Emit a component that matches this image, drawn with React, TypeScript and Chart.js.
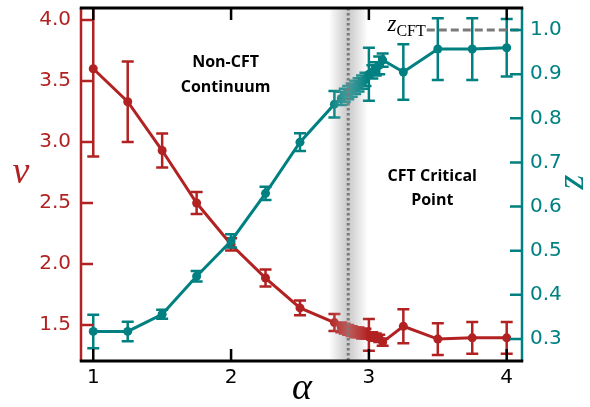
import React, { useEffect, useRef } from "react";
import { Chart, registerables } from "chart.js";
Chart.register(...registerables);

const RED = "#b22222";
const TEAL = "#008080";

const alpha = [1, 1.25, 1.5, 1.75, 2, 2.25, 2.5, 2.75, 2.8, 2.825, 2.85, 2.875, 2.9, 2.925, 2.95, 2.975, 3, 3.025, 3.05, 3.075, 3.1, 3.25, 3.5, 3.75, 4];
const nu = [3.6, 3.33, 2.93, 2.5, 2.16, 1.885, 1.64, 1.52, 1.48, 1.47, 1.46, 1.45, 1.44, 1.44, 1.43, 1.43, 1.42, 1.41, 1.4, 1.39, 1.36, 1.49, 1.385, 1.395, 1.395];
const nuErr = [0.72, 0.33, 0.14, 0.09, 0.05, 0.07, 0.06, 0.07, 0.04, 0.04, 0.04, 0.04, 0.04, 0.04, 0.04, 0.04, 0.13, 0.03, 0.03, 0.03, 0.03, 0.14, 0.13, 0.13, 0.13];
const z = [0.317, 0.317, 0.356, 0.442, 0.522, 0.63, 0.746, 0.832, 0.845, 0.852, 0.858, 0.864, 0.87, 0.876, 0.882, 0.888, 0.9, 0.905, 0.912, 0.92, 0.932, 0.905, 0.957, 0.957, 0.96];
const zErr = [0.038, 0.022, 0.01, 0.012, 0.015, 0.015, 0.02, 0.03, 0.015, 0.015, 0.015, 0.015, 0.015, 0.015, 0.015, 0.015, 0.06, 0.015, 0.015, 0.02, 0.015, 0.063, 0.07, 0.07, 0.065];

const xTicks = [1, 2, 3, 4];
const nuTicks = [1.5, 2.0, 2.5, 3.0, 3.5, 4.0];
const zTicks = [0.3, 0.4, 0.5, 0.6, 0.7, 0.8, 0.9, 1.0];

const zCFT = 1.0;
const zCFTStart = 3.42;
const alphaC = 2.85;
const bandHalf = 0.14;

const annotations = [
  { text: "Non-CFT", x: 1.96, y: 3.65 },
  { text: "Continuum", x: 1.96, y: 3.45 },
  { text: "CFT Critical", x: 3.46, y: 2.72 },
  { text: "Point", x: 3.46, y: 2.52 },
];

const errs = [nuErr, zErr];
const colors = [RED, TEAL];

const customPlugin = {
  id: "custom",
  beforeDatasetsDraw(chart: any) {
    const { ctx, chartArea, scales } = chart;
    const l = scales.x.getPixelForValue(alphaC - bandHalf);
    const r = scales.x.getPixelForValue(alphaC + bandHalf);
    const g = ctx.createLinearGradient(l, 0, r, 0);
    g.addColorStop(0, "rgba(150,150,150,0)");
    g.addColorStop(0.5, "rgba(150,150,150,0.5)");
    g.addColorStop(1, "rgba(150,150,150,0)");
    ctx.save();
    ctx.fillStyle = g;
    ctx.fillRect(l, chartArea.top, r - l, chartArea.bottom - chartArea.top);
    ctx.restore();
  },
  afterDatasetDraw(chart: any, args: any) {
    const { ctx, chartArea, scales } = chart;
    const i = args.index;
    const err = errs[i];
    const ds = chart.data.datasets[i];
    const ys = scales[ds.yAxisID];
    ctx.save();
    ctx.beginPath();
    ctx.rect(chartArea.left, chartArea.top, chartArea.right - chartArea.left, chartArea.bottom - chartArea.top);
    ctx.clip();
    ctx.strokeStyle = colors[i];
    ctx.lineWidth = 2.5;
    ds.data.forEach((p: any, k: number) => {
      const px = scales.x.getPixelForValue(p.x);
      const y1 = ys.getPixelForValue(p.y - err[k]);
      const y2 = ys.getPixelForValue(p.y + err[k]);
      ctx.beginPath();
      ctx.moveTo(px, y1);
      ctx.lineTo(px, y2);
      ctx.moveTo(px - 6, y1);
      ctx.lineTo(px + 6, y1);
      ctx.moveTo(px - 6, y2);
      ctx.lineTo(px + 6, y2);
      ctx.stroke();
    });
    ctx.restore();
  },
  afterDatasetsDraw(chart: any) {
    const { ctx, chartArea, scales } = chart;
    const cx = scales.x.getPixelForValue(alphaC);
    const l = scales.x.getPixelForValue(alphaC - bandHalf);
    const r = scales.x.getPixelForValue(alphaC + bandHalf);
    const g = ctx.createLinearGradient(l, 0, r, 0);
    g.addColorStop(0, "rgba(235,235,235,0)");
    g.addColorStop(0.5, "rgba(200,200,200,0.35)");
    g.addColorStop(1, "rgba(235,235,235,0)");
    ctx.save();
    ctx.fillStyle = g;
    ctx.fillRect(l, chartArea.top, r - l, chartArea.bottom - chartArea.top);
    ctx.strokeStyle = "#7a7a7a";
    ctx.lineWidth = 3;
    ctx.setLineDash([2.5, 2.5]);
    ctx.beginPath();
    ctx.moveTo(cx, chartArea.top);
    ctx.lineTo(cx, chartArea.bottom);
    ctx.stroke();
    const yc = scales.y2.getPixelForValue(zCFT);
    const xs = scales.x.getPixelForValue(zCFTStart);
    ctx.setLineDash([8, 4]);
    ctx.beginPath();
    ctx.moveTo(xs, yc);
    ctx.lineTo(chartArea.right, yc);
    ctx.stroke();
    ctx.setLineDash([]);
    ctx.fillStyle = "#000";
    ctx.textAlign = "right";
    ctx.textBaseline = "alphabetic";
    ctx.font = "16px 'Liberation Serif'";
    const cftW = ctx.measureText("CFT").width;
    ctx.fillText("CFT", xs - 1, yc + 6);
    ctx.font = "italic 23px 'Liberation Serif'";
    ctx.fillText("z", xs - 1 - cftW, yc + 1);
    ctx.font = "bold 16px 'Open Sans'";
    ctx.textAlign = "center";
    ctx.textBaseline = "middle";
    annotations.forEach((a) => {
      ctx.fillText(a.text, scales.x.getPixelForValue(a.x), scales.y.getPixelForValue(a.y));
    });
    ctx.restore();
  },
  afterDraw(chart: any) {
    const { ctx, chartArea, scales } = chart;
    const { left, right, top, bottom } = chartArea;
    ctx.save();
    ctx.lineWidth = 2.5;
    ctx.lineCap = "butt";
    const TL = 12;
    ctx.strokeStyle = RED;
    ctx.beginPath();
    ctx.moveTo(left, top);
    ctx.lineTo(left, bottom);
    nuTicks.forEach((v) => {
      const y = scales.y.getPixelForValue(v);
      ctx.moveTo(left, y);
      ctx.lineTo(left + TL, y);
    });
    ctx.stroke();
    ctx.strokeStyle = TEAL;
    ctx.beginPath();
    ctx.moveTo(right, top);
    ctx.lineTo(right, bottom);
    zTicks.forEach((v) => {
      const y = scales.y2.getPixelForValue(v);
      ctx.moveTo(right, y);
      ctx.lineTo(right - TL, y);
    });
    ctx.stroke();
    ctx.strokeStyle = "#000";
    ctx.lineWidth = 3;
    ctx.beginPath();
    ctx.moveTo(left - 1.25, top);
    ctx.lineTo(right + 1.25, top);
    ctx.moveTo(left - 1.25, bottom);
    ctx.lineTo(right + 1.25, bottom);
    ctx.stroke();
    ctx.lineWidth = 2.5;
    ctx.beginPath();
    xTicks.forEach((v) => {
      const x = scales.x.getPixelForValue(v);
      ctx.moveTo(x, bottom);
      ctx.lineTo(x, bottom - TL);
      ctx.moveTo(x, top);
      ctx.lineTo(x, top + TL);
    });
    ctx.stroke();
    ctx.textAlign = "center";
    ctx.textBaseline = "middle";
    ctx.fillStyle = RED;
    ctx.font = "italic 38px 'Liberation Serif'";
    ctx.fillText("ν", 21, 173);
    ctx.fillStyle = "#000";
    ctx.fillText("α", 302, 389);
    ctx.fillStyle = TEAL;
    ctx.translate(577, 182);
    ctx.rotate(-Math.PI / 2);
    ctx.fillText("z", 0, -4);
    ctx.restore();
  },
};

export default function App() {
  const ref = useRef<HTMLCanvasElement | null>(null);
  useEffect(() => {
    if (!ref.current) return;
    const tickFont = { family: "'DejaVu Sans'", size: 20 };
    const vFit = (w: number) => (s: any) => {
      s.width = w;
      s.paddingTop = 0;
      s.paddingBottom = 0;
    };
    const chart = new Chart(ref.current, {
      type: "line",
      data: {
        datasets: [
          {
            label: "nu",
            data: alpha.map((a, i) => ({ x: a, y: nu[i] })),
            yAxisID: "y",
            borderColor: RED,
            backgroundColor: RED,
            borderWidth: 3,
            pointRadius: 4.5,
            pointBorderWidth: 0,
            pointHoverRadius: 4.5,
            order: 2,
          },
          {
            label: "z",
            data: alpha.map((a, i) => ({ x: a, y: z[i] })),
            yAxisID: "y2",
            borderColor: TEAL,
            backgroundColor: TEAL,
            borderWidth: 3,
            pointRadius: 4.5,
            pointBorderWidth: 0,
            pointHoverRadius: 4.5,
            order: 1,
          },
        ],
      },
      options: {
        animation: false,
        responsive: true,
        maintainAspectRatio: false,
        layout: { padding: { top: 8, left: 0, right: 0, bottom: 0 } },
        plugins: { legend: { display: false }, tooltip: { enabled: false } },
        events: [],
        scales: {
          x: {
            type: "linear",
            min: 0.911,
            max: 4.111,
            afterBuildTicks: (s: any) => {
              s.ticks = xTicks.map((v) => ({ value: v }));
            },
            afterFit: (s: any) => {
              s.height = 46;
              s.paddingLeft = 0;
              s.paddingRight = 0;
            },
            grid: { display: false, drawTicks: false },
            border: { display: false },
            ticks: { color: "#000", font: tickFont, padding: 5, callback: (v: any) => String(v) },
          },
          y: {
            type: "linear",
            position: "left",
            min: 1.205,
            max: 4.098,
            afterBuildTicks: (s: any) => {
              s.ticks = nuTicks.map((v) => ({ value: v }));
            },
            afterFit: vFit(81),
            grid: { display: false, drawTicks: false },
            border: { display: false },
            ticks: { color: RED, font: tickFont, padding: 10, callback: (v: any) => Number(v).toFixed(1) },
          },
          y2: {
            type: "linear",
            position: "right",
            min: 0.25,
            max: 1.05,
            afterBuildTicks: (s: any) => {
              s.ticks = zTicks.map((v) => ({ value: v }));
            },
            afterFit: vFit(68),
            grid: { display: false, drawTicks: false },
            border: { display: false },
            ticks: { color: TEAL, font: tickFont, padding: 8, callback: (v: any) => Number(v).toFixed(1) },
          },
        },
      },
      plugins: [customPlugin],
    });
    return () => chart.destroy();
  }, []);
  return (
    <div style={{ position: "fixed", left: 0, top: 0, width: 590, height: 407, background: "#fff" }}>
      <canvas ref={ref} />
    </div>
  );
}
